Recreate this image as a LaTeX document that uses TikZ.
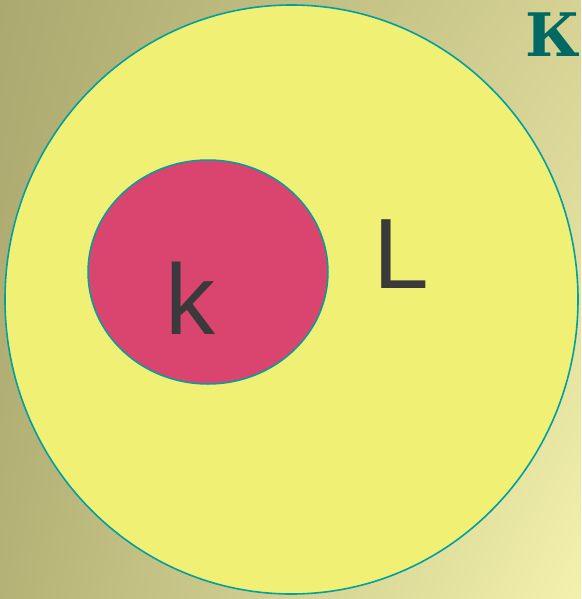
\documentclass[tikz,border=0pt]{standalone}
\usepackage{fontspec}
\usetikzlibrary{shapes.geometric}
\setmainfont{Liberation Sans}
\newfontfamily\titlefont{DejaVu Serif}
\definecolor{bigfill}{RGB}{240,240,117}
\definecolor{smallfill}{RGB}{217,69,111}
\definecolor{edge}{RGB}{0,160,160}
\definecolor{txt}{RGB}{58,58,58}
\definecolor{titlec}{RGB}{0,105,100}
\pgfdeclarefunctionalshading{bgshade}{\pgfpoint{0bp}{0bp}}{\pgfpoint{100bp}{100bp}}{}{
  25 sub 50 div dup 0 lt {pop 0} if dup 1 gt {pop 1} if
  exch 25 sub 50 div dup 0 lt {pop 0} if dup 1 gt {pop 1} if
  exch
  1 index 1 index mul -0.0862 mul 2 index 0.2470 mul add 1 index -0.0314 mul add 0.7059 add
  2 index 2 index mul -0.0863 mul 3 index 0.2471 mul add 2 index -0.0353 mul add 0.6980 add
  3 index 3 index mul -0.0706 mul 4 index 0.2118 mul add 3 index -0.0235 mul add 0.4627 add
  5 3 roll pop pop
}
\tikzset{
  setbig/.style={draw=edge, line width=1.6pt, fill=bigfill},
  setsmall/.style={draw=edge, line width=1.5pt, fill=smallfill},
  setlabel/.style={text=txt, font=\fontsize{100}{100}\selectfont, inner sep=0pt},
}
\begin{document}
\begin{tikzpicture}[x=1pt,y=-1pt]
\useasboundingbox (0,0) rectangle (581,599);
\begin{scope}
\clip (0,0) rectangle (581,599);
\shade[shading=bgshade] (0,0) rectangle (581,599);
\node[anchor=base west, inner sep=0pt, text=titlec, font=\titlefont\bfseries\fontsize{60}{60}\selectfont] (title) at (525,57) {К};
\node[setbig, ellipse, minimum width=573pt, minimum height=589pt, inner sep=0pt] (L) at (291.5,299.5) {};
\node[setsmall, ellipse, minimum width=240pt, minimum height=224pt, inner sep=0pt] (K) at (208,272) {};
\end{scope}
\node[setlabel] (k) at (190,298) {k};
\node[setlabel] (l) at (401,254) {L};
\end{tikzpicture}
\end{document}
